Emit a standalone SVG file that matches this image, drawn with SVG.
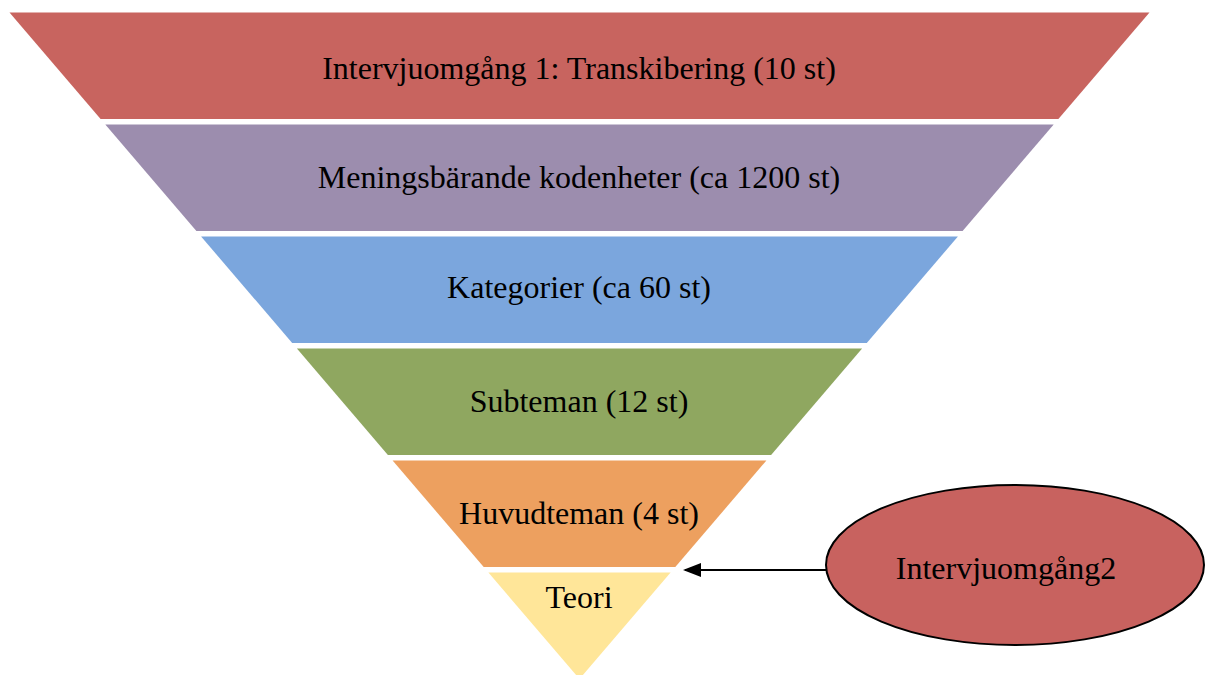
<svg xmlns="http://www.w3.org/2000/svg" width="1205" height="675" viewBox="0 0 1205 675">
<style>
text{font-family:"Liberation Serif","Times New Roman",serif;font-size:32px;fill:#000;text-anchor:middle}
.conn{stroke:#000;stroke-width:2;fill:none}
</style>
<defs>
<marker id="arr" markerWidth="9" markerHeight="7" refX="8" refY="3.5" orient="auto" markerUnits="strokeWidth">
<path d="M0,0 L9,3.5 L0,7 Z" fill="#000"/>
</marker>
</defs>
<rect width="1205" height="675" fill="#fff"/>
<g id="band1"><polygon points="9.5,12.5 1149.5,12.5 1058.4,119 100.6,119" fill="#C8645F"/><text x="579" y="78.5">Intervjuomgång 1: Transkibering (10 st)</text></g>
<g id="band2"><polygon points="105.3,124.5 1053.7,124.5 962.6,231 196.4,231" fill="#9C8DAE"/><text x="579" y="188">Meningsbärande kodenheter (ca 1200 st)</text></g>
<g id="band3"><polygon points="201.1,236.5 957.9,236.5 866.8,343 292.2,343" fill="#7BA6DD"/><text x="579" y="298">Kategorier (ca 60 st)</text></g>
<g id="band4"><polygon points="296.9,348.5 862.1,348.5 771.1,455 387.9,455" fill="#8FA760"/><text x="579" y="412">Subteman (12 st)</text></g>
<g id="band5"><polygon points="392.6,460.5 766.4,460.5 675.3,567 483.7,567" fill="#EDA05F"/><text x="579" y="523.5">Huvudteman (4 st)</text></g>
<g id="band6"><polygon points="488.4,572.5 670.6,572.5 579.5,679" fill="#FFE699"/><text x="579" y="608">Teori</text></g>
<g id="intervju2"><ellipse cx="1015" cy="565" rx="189" ry="80" fill="#C8625F" stroke="#000" stroke-width="2"/><text x="1006" y="579">Intervjuomgång2</text></g>
<g id="connectors"><line class="conn" x1="826" y1="570" x2="685" y2="570" marker-end="url(#arr)"/></g>
</svg>
